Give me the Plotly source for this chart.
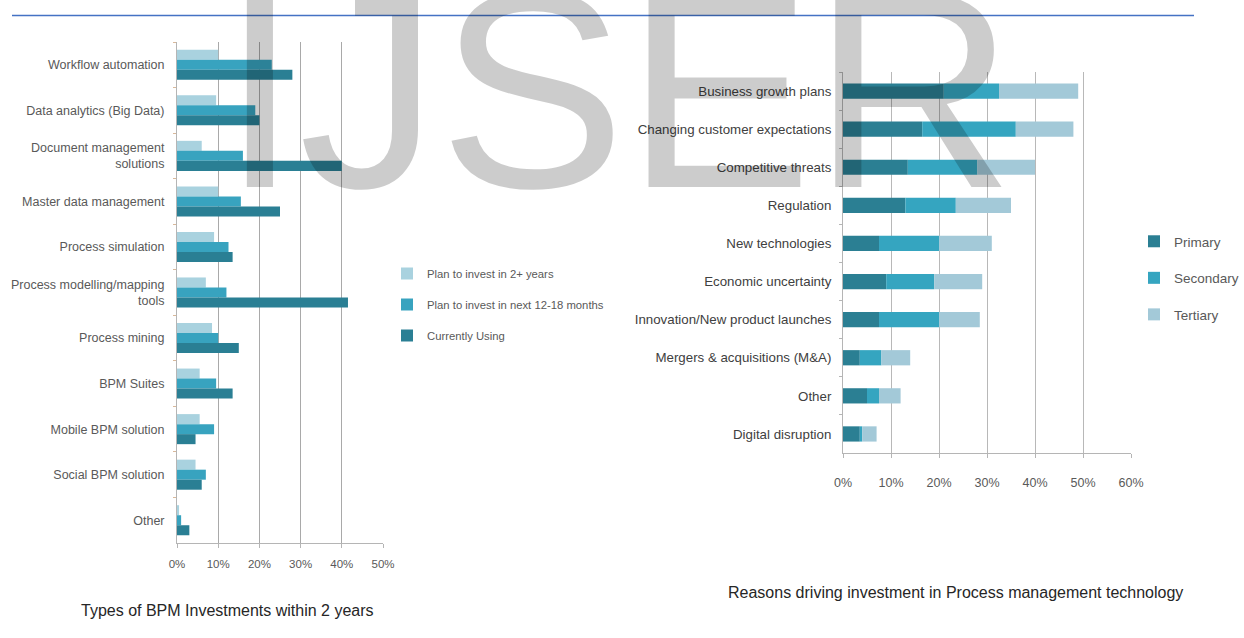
import plotly.graph_objects as go

W, H = 1244, 638

# ---------------- data: left chart ----------------
cats_left = ["Workflow automation", "Data analytics (Big Data)", "Document management<br>solutions",
             "Master data management", "Process simulation", "Process modelling/mapping<br>tools",
             "Process mining", "BPM Suites", "Mobile BPM solution", "Social BPM solution", "Other"]
plan_2plus = [10, 9.5, 6, 10, 9, 7, 8.5, 5.5, 5.5, 4.5, 0.5]
plan_12_18 = [23, 19, 16, 15.5, 12.5, 12, 10, 9.5, 9, 7, 1]
currently = [28, 20, 40, 25, 13.5, 41.5, 15, 13.5, 4.5, 6, 3]
ticks_left = [0, 10, 20, 30, 40, 50]

# ---------------- data: right chart ----------------
cats_right = ["Business growth plans", "Changing customer expectations", "Competitive threats",
              "Regulation", "New technologies", "Economic uncertainty",
              "Innovation/New product launches", "Mergers & acquisitions (M&A)", "Other",
              "Digital disruption"]
primary = [21, 16.5, 13.5, 13, 7.5, 9, 7.5, 3.5, 5, 3.5]
secondary = [11.5, 19.5, 14.5, 10.5, 12.5, 10, 12.5, 4.5, 2.5, 0.5]
tertiary = [16.5, 12, 12, 11.5, 11, 10, 8.5, 6, 4.5, 3]
ticks_right = [0, 10, 20, 30, 40, 50, 60]

FONT = "Liberation Sans, Arial, sans-serif"
LBL = "#595959"

def px_x(p):
    return p / W

def px_y(p):
    return 1 - p / H

fig = go.Figure()

# left chart traces (grouped)
left_cols = ["#a9d2df", "#38a3bf", "#2a7f94"]
left_names = ["Plan to invest in 2+ years", "Plan to invest in next 12-18 months", "Currently Using"]
for i, (vals, name, col) in enumerate(zip([plan_2plus, plan_12_18, currently], left_names, left_cols)):
    fig.add_trace(go.Bar(y=cats_left, x=vals, orientation="h", name=name,
                         marker=dict(color=col, line=dict(width=0)),
                         xaxis="x", yaxis="y", legend="legend", legendgroup="L%d" % i))

# right chart traces (stacked via shared offsetgroup + base)
base2 = [p for p in primary]
base3 = [p + s for p, s in zip(primary, secondary)]
right_cols = ["#2b7f93", "#35a5c0", "#a3c9d8"]
right_names = ["Primary", "Secondary", "Tertiary"]
for i, (vals, base, name, col) in enumerate(zip([primary, secondary, tertiary],
                                                [[0] * len(primary), base2, base3],
                                                right_names, right_cols)):
    fig.add_trace(go.Bar(y=cats_right, x=vals, base=base, orientation="h", name=name,
                         marker=dict(color=col, line=dict(width=0)), width=0.4,
                         offsetgroup="r", xaxis="x2", yaxis="y2", legend="legend2",
                         legendgroup="R%d" % i))

axis_common = dict(showgrid=True, gridwidth=1, zeroline=False, automargin=False,
                   showline=True, linecolor="#b5b5b5", linewidth=1,
                   ticks="outside", ticklen=4, tickcolor="#b5b5b5", fixedrange=True)

fig.update_layout(
    width=W, height=H, margin=dict(l=0, r=0, t=0, b=0, autoexpand=False),
    paper_bgcolor="white", plot_bgcolor="white",
    barmode="group", bargap=0.34, bargroupgap=0.0,
    font=dict(family=FONT, color=LBL, size=13),
    xaxis=dict(domain=[px_x(177), px_x(383)], range=[0, 50], anchor="y",
               tickvals=ticks_left, ticktext=["%d%%" % t for t in ticks_left],
               tickfont=dict(size=11.5, color=LBL), ticklabelstandoff=6,
               gridcolor="#a9a9a9", **axis_common),
    yaxis=dict(domain=[px_y(543), px_y(42)], anchor="x", autorange="reversed",
               categoryorder="array", categoryarray=cats_left, type="category",
               showgrid=False, zeroline=False, showline=True, linecolor="#b5b5b5",
               ticks="outside", ticklen=3, tickcolor="#d8b89a", tickson="boundaries",
               tickfont=dict(size=12.5, color=LBL), ticklabelstandoff=9, fixedrange=True,
               automargin=False),
    xaxis2=dict(domain=[px_x(843), px_x(1131)], range=[0, 60], anchor="y2",
                tickvals=ticks_right, ticktext=["%d%%" % t for t in ticks_right],
                tickfont=dict(size=12.5, color=LBL), ticklabelstandoff=14,
                gridcolor="#b8b8b8", **axis_common),
    yaxis2=dict(domain=[px_y(453), px_y(72)], anchor="x2", autorange="reversed",
                categoryorder="array", categoryarray=cats_right, type="category",
                showgrid=False, zeroline=False, showline=True, linecolor="#b5b5b5",
                ticks="outside", ticklen=3, tickcolor="#b5b5b5", tickson="boundaries",
                tickfont=dict(size=13.3, color="#404040"), ticklabelstandoff=8, fixedrange=True,
                automargin=False),
    legend=dict(x=px_x(387), y=px_y(259), xanchor="left", yanchor="top",
                font=dict(size=11.3, color=LBL), traceorder="grouped", tracegroupgap=12,
                bgcolor="rgba(0,0,0,0)"),
    legend2=dict(x=px_x(1134), y=px_y(226), xanchor="left", yanchor="top",
                 font=dict(size=13.5, color=LBL), traceorder="grouped", tracegroupgap=16,
                 bgcolor="rgba(0,0,0,0)"),
    showlegend=True,
)

# titles
fig.add_annotation(text="Types of BPM Investments within 2 years", xref="paper", yref="paper",
                   x=px_x(227), y=px_y(610), xanchor="center", yanchor="middle", showarrow=False,
                   font=dict(family=FONT, size=16, color="#262626"))
fig.add_annotation(text="Reasons driving investment in Process management technology", xref="paper",
                   yref="paper", x=px_x(955), y=px_y(592), xanchor="center", yanchor="middle",
                   showarrow=False, font=dict(family=FONT, size=16, color="#262626"))

# blue header rule
fig.add_shape(type="line", xref="paper", yref="paper", x0=px_x(12), x1=px_x(1194),
              y0=px_y(15.5), y1=px_y(15.5), line=dict(color="#4472c4", width=1.5))

# watermark
fig.add_annotation(text="IJSER", xref="paper", yref="paper", x=px_x(618), y=px_y(90),
                   xanchor="center", yanchor="middle", showarrow=False,
                   font=dict(family="Liberation Sans, Arial, sans-serif", size=280,
                             color="rgba(0,0,0,0.2)"))

fig.write_html("out.html")
